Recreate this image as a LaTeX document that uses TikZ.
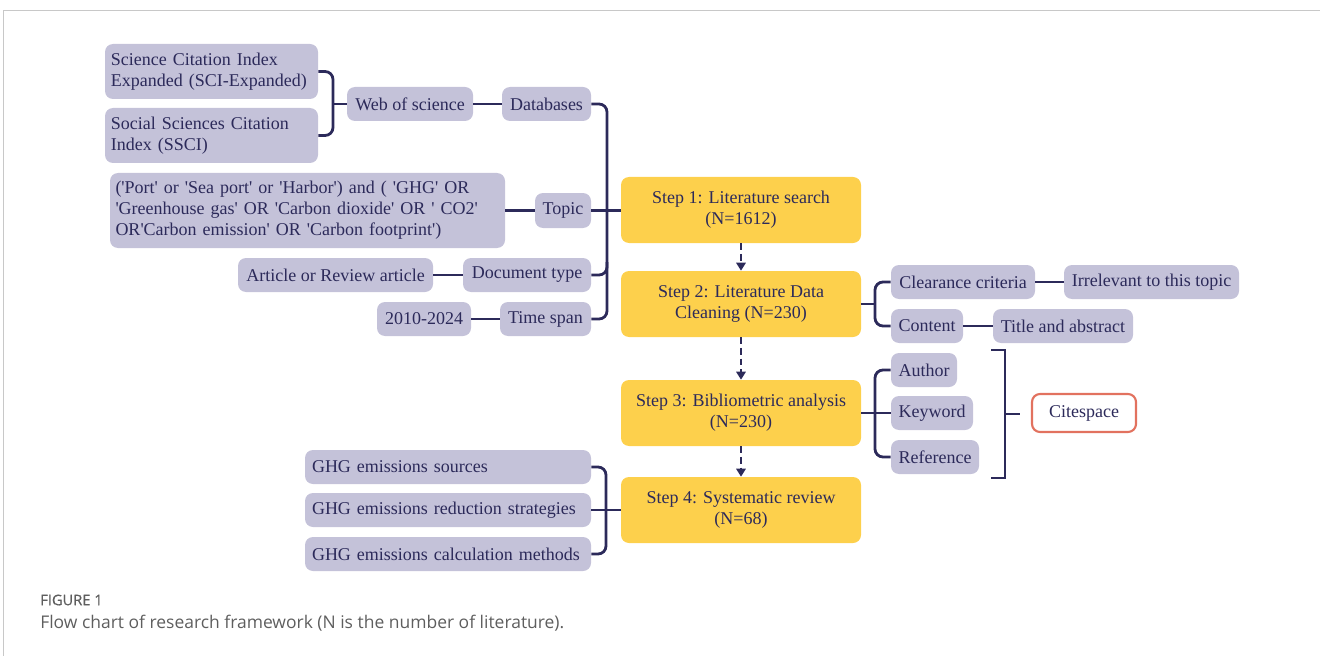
\documentclass[tikz,border=0pt]{standalone}
\usepackage{fontspec}
\setmainfont{Liberation Serif}[Ligatures=TeXOff]
\newfontfamily\capfont{Open Sans}
\newfontfamily\capfontsb{Open Sans}[FakeBold=0.6]
\usetikzlibrary{arrows.meta}

\definecolor{ink}{HTML}{2C2A5A}
\definecolor{lav}{HTML}{C4C2D9}
\definecolor{gold}{HTML}{FDD04C}
\definecolor{coral}{HTML}{E2725F}
\definecolor{frame}{HTML}{C8C8C8}
\definecolor{capgray}{HTML}{5E5E5E}

% box from corner (x1,y1) to corner (x2,y2), in pixel units
\newcommand\bx[7]{%
  \node[#6, minimum width={(#4-#2)*0.75pt}, minimum height={(#5-#3)*0.75pt}]
    (#1) at ({(#2+#4)/2},{(#3+#5)/2}) {#7};}

\tikzset{
  base/.style={rounded corners=6pt, inner sep=0pt, text=ink,
    font=\fontsize{13.5}{15.75}\selectfont},
  item/.style={base, fill=lav},
  leftitem/.style={item, align=left, text width=#1},
  stepbox/.style={base, fill=gold, align=center},
  toolbox/.style={base, fill=white, draw=coral, line width=1.6pt},
  link/.style={draw=ink, line width=2.1pt, rounded corners=6pt},
  flow/.style={draw=ink, line width=2.1pt, dash pattern=on 5pt off 3pt,
    -{Triangle[length=6pt,width=7pt]}},
}

\begin{document}
\begin{tikzpicture}[x=0.75pt, y=-0.75pt]
\useasboundingbox (0,0) rectangle (1320,656);

% page frame
\draw[frame, line width=0.75pt] (3,656) -- (3,11) -- (1320,11);

% search criteria
\bx{sci}{105}{44}{318}{99}{leftitem=151pt}{Science Citation Index\\Expanded (SCI-Expanded)}
\bx{ssci}{105}{108}{318}{163}{leftitem=151pt}{Social Sciences Citation\\Index (SSCI)}
\bx{wos}{347}{87}{473}{121}{item}{Web of science}
\bx{db}{502}{87}{591}{121}{item}{Databases}
\bx{query}{110}{173}{505}{248}{leftitem=288pt}{('Port' or 'Sea port' or 'Harbor') and ( 'GHG' OR\\'Greenhouse gas' OR 'Carbon dioxide' OR ' CO2'\\OR'Carbon emission' OR 'Carbon footprint')}
\bx{topic}{535}{193}{591}{228}{item}{Topic}
\bx{art}{238}{258}{433}{292}{item}{Article or Review article}
\bx{doc}{463}{258}{591}{292}{item}{Document type}
\bx{yr}{377}{302}{471}{336}{item}{2010-2024}
\bx{ts}{500}{302}{591}{336}{item}{Time span}

% main steps
\bx{s1}{621}{177}{861}{243}{stepbox}{Step 1: Literature search\\(N=1612)}
\bx{s2}{621}{271}{861}{337}{stepbox}{Step 2: Literature Data\\Cleaning (N=230)}
\bx{s3}{621}{380}{861}{446}{stepbox}{Step 3: Bibliometric analysis\\(N=230)}
\bx{s4}{621}{477}{861}{543}{stepbox}{Step 4: Systematic review\\(N=68)}

% cleaning and analysis details
\bx{clr}{891}{265}{1035}{299}{item}{Clearance criteria}
\bx{irr}{1064}{265}{1239}{299}{item}{Irrelevant to this topic}
\bx{cont}{891}{309}{963}{343}{item}{Content}
\bx{tit}{993}{309}{1133}{343}{item}{Title and abstract}
\bx{auth}{891}{353}{957}{387}{item}{Author}
\bx{kw}{891}{396}{973}{430}{item}{Keyword}
\bx{ref}{891}{440}{979}{474}{item}{Reference}
\bx{cite}{1032}{394}{1136}{432}{toolbox}{Citespace}

% review topics
\bx{src}{305}{450}{591}{484}{leftitem=204pt}{GHG emissions sources}
\bx{red}{305}{493}{591}{527}{leftitem=204pt}{GHG emissions reduction strategies}
\bx{calc}{305}{537}{591}{571}{leftitem=204pt}{GHG emissions calculation methods}

% connectors: databases
\draw[link] (sci.east) -- (333,71.5) -- (333,135.5) -- (ssci.east);
\draw[link] (333,104) -- (wos.west);
\draw[link] (wos) -- (db);
\draw[link] (db.east) -- (607,104) -- (607,319) -- (ts.east);
\draw[link] (doc.east) -- (607,275) -- (607,262);
\draw[link] (query.east |- topic) -- (topic.west);
\draw[link] (topic.east) -- (s1.west |- topic);
\draw[link] (art) -- (doc);
\draw[link] (yr) -- (ts);

% connectors: steps
\draw[flow] (s1) -- (s2);
\draw[flow] (s2) -- (s3);
\draw[flow] (s3) -- (s4);

% connectors: cleaning
\draw[link] (s2.east) -- (875,304);
\draw[link] (clr.west) -- (875,282) -- (875,326) -- (cont.west);
\draw[link] (clr) -- (irr);
\draw[link] (cont) -- (tit);

% connectors: analysis
\draw[link] (auth.west) -- (875,370) -- (875,457) -- (ref.west);
\draw[link] (s3.east |- kw) -- (kw.west);
\coordinate (bt) at (991,350);
\coordinate (bb) at (991,478);
\coordinate (bm) at (1020,414);
\draw[link, rounded corners=0pt] (bt) -- (1005,350) -- (1005,478) -- (bb);
\draw[link] (1005,414) -- (bm);

% connectors: review
\draw[link] (src.east) -- (606,467) -- (606,554) -- (calc.east);
\draw[link] (red.east) -- (s4.west |- red);

% caption
\node[anchor=west, inner sep=0pt, text=capgray, font=\capfontsb\fontsize{11}{13}\selectfont] (fig) at (40,600) {FIGURE 1};
\node[anchor=west, inner sep=0pt, text=capgray, font=\capfont\fontsize{13.1}{15}\selectfont] (cap) at (40,623) {Flow chart of research framework (N is the number of literature).};
\end{tikzpicture}
\end{document}
